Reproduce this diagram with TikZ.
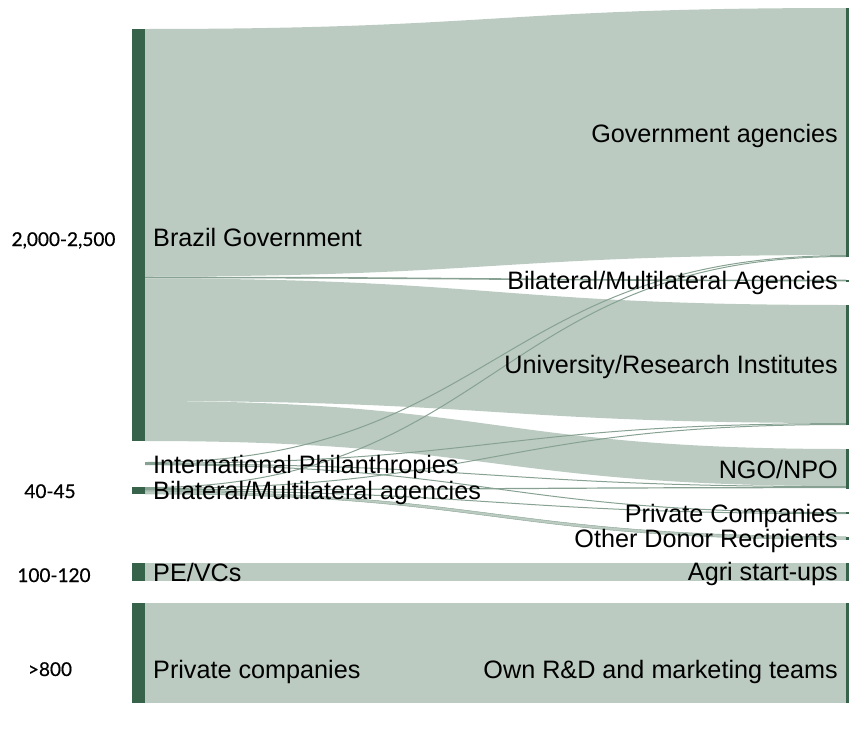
\documentclass[tikz,border=0pt]{standalone}
\usepackage{fontspec}
\setmainfont{Liberation Sans}
\newfontfamily\numfont[FakeBold=0.6]{Lato}
\usepackage{tikz}
\definecolor{bargreen}{RGB}{54,99,74}
\definecolor{flowgreen}{RGB}{187,203,193}
\definecolor{linkgreen}{RGB}{135,162,146}
\tikzset{
  band/.style={fill=flowgreen},
  flowline/.style={draw=linkgreen, line width=#1},
  flowline/.default=1pt,
  nodebar/.style={fill=bargreen},
  lab/.style={inner sep=0pt, font=\fontsize{25.2}{29}\selectfont},
  amount/.style={inner sep=0pt, font=\numfont\fontsize{19}{22}\selectfont},
}

\begin{document}
\begin{tikzpicture}[x=1pt,y=-1pt]
\useasboundingbox (0,0) rectangle (849,731);
\clip (0,0) rectangle (849,731);

%%Flow ends, sources side
\coordinate (bg-ga-t) at (145,29);
\coordinate (bg-ga-b) at (145,276.5);
\coordinate (bg-ba) at (145,277.5);
\coordinate (bg-ur-t) at (145,278.5);
\coordinate (bg-ur-b) at (145,401);
\coordinate (bg-ngo-t) at (145,401);
\coordinate (bg-ngo-b) at (145,441);
\coordinate (ip-ga) at (145,462.5);
\coordinate (ip-ur) at (145,463.3);
\coordinate (ip-ngo) at (145,464);
\coordinate (ip-pc) at (145,464.7);
\coordinate (bla-ga) at (145,487.6);
\coordinate (bla-ur) at (145,488.6);
\coordinate (bla-ngo) at (145,489.7);
\coordinate (bla-pc) at (145,490.8);
\coordinate (bla-odr-t) at (145,491.5);
\coordinate (bla-odr-b) at (145,494);

%%Flow ends, recipients side
\coordinate (ga-bg-t) at (846,8);
\coordinate (ga-bg-b) at (846,255);
\coordinate (ga-ip) at (846,255.6);
\coordinate (ga-bla) at (846,256.5);
\coordinate (ba-bg) at (846,280.5);
\coordinate (ur-bg-t) at (846,305);
\coordinate (ur-bg-b) at (846,423);
\coordinate (ur-ip) at (846,423.6);
\coordinate (ur-bla) at (846,424.5);
\coordinate (ngo-bg-t) at (846,449);
\coordinate (ngo-bg-b) at (846,486);
\coordinate (ngo-ip) at (846,486.6);
\coordinate (ngo-bla) at (846,487.6);
\coordinate (pc-ip) at (846,512.6);
\coordinate (pc-bla) at (846,513.6);
\coordinate (odr-bla-t) at (846,536.5);
\coordinate (odr-bla-b) at (846,539.5);

%%Wide bands
\fill[band] (bg-ga-t) .. controls +(350,0) and +(-350,0) .. (ga-bg-t) -- (ga-bg-b) .. controls +(-350,0) and +(350,0) .. (bg-ga-b) -- cycle;
\fill[band] (bg-ur-t) .. controls +(350,0) and +(-350,0) .. (ur-bg-t) -- (ur-bg-b) .. controls +(-350,0) and +(350,0) .. (bg-ur-b) -- cycle;
\fill[band] (bg-ngo-t) .. controls +(350,0) and +(-350,0) .. (ngo-bg-t) -- (ngo-bg-b) .. controls +(-350,0) and +(350,0) .. (bg-ngo-b) -- cycle;
\filldraw[band, draw=linkgreen, line width=0.4pt] (bla-odr-t) .. controls +(350,0) and +(-350,0) .. (odr-bla-t) -- (odr-bla-b) .. controls +(-350,0) and +(350,0) .. (bla-odr-b) -- cycle;
\fill[band] (145,563) rectangle (846,581);
\fill[band] (145,603) rectangle (846,703);

%%Thin flows
\draw[flowline=1.6pt] (bg-ba) .. controls +(350,0) and +(-350,0) .. (ba-bg);
\draw[flowline] (ip-ga) .. controls +(350,0) and +(-350,0) .. (ga-ip);
\draw[flowline] (ip-ur) .. controls +(350,0) and +(-350,0) .. (ur-ip);
\draw[flowline] (ip-ngo) .. controls +(350,0) and +(-350,0) .. (ngo-ip);
\draw[flowline] (ip-pc) .. controls +(350,0) and +(-350,0) .. (pc-ip);
\draw[flowline] (bla-ga) .. controls +(350,0) and +(-350,0) .. (ga-bla);
\draw[flowline] (bla-ur) .. controls +(350,0) and +(-350,0) .. (ur-bla);
\draw[flowline=1.2pt] (bla-ngo) .. controls +(350,0) and +(-350,0) .. (ngo-bla);
\draw[flowline] (bla-pc) .. controls +(350,0) and +(-350,0) .. (pc-bla);

%%Source bars
\fill[nodebar] (132,29) rectangle (145,441);
\fill[nodebar] (132,487) rectangle (145,494);
\fill[nodebar] (132,563) rectangle (145,581);
\fill[nodebar] (132,603) rectangle (145,703);

%%Recipient bars
\fill[nodebar] (846,8) rectangle (852,257);
\fill[nodebar] (846,279.5) rectangle (852,281.5);
\fill[nodebar] (846,305) rectangle (852,425);
\fill[nodebar] (846,449) rectangle (852,489);
\fill[nodebar] (846,512) rectangle (852,514.2);
\fill[nodebar] (846,536.5) rectangle (852,539.5);
\fill[nodebar] (846,563) rectangle (852,581);
\fill[nodebar] (846,603) rectangle (852,703);

%%Source labels
\node[lab, anchor=base west] (brazil) at (153,246) {Brazil Government};
\node[lab, anchor=base west] (philanthropies) at (153,473) {International Philanthropies};
\node[lab, anchor=base west] (bilateral) at (153,499) {Bilateral/Multilateral agencies};
\node[lab, anchor=base west] (pevc) at (153,581) {PE/VCs};
\node[lab, anchor=base west] (privco) at (153,678) {Private companies};

%%Recipient labels
\node[lab, anchor=base east] (govagencies) at (838,142) {Government agencies};
\node[lab, anchor=base east] (bilagencies) at (838,289) {Bilateral/Multilateral Agencies};
\node[lab, anchor=base east] (university) at (838,373) {University/Research Institutes};
\node[lab, anchor=base east] (ngo) at (838,478) {NGO/NPO};
\node[lab, anchor=base east] (privcomp) at (838,522) {Private Companies};
\node[lab, anchor=base east] (otherdonor) at (838,547) {Other Donor Recipients};
\node[lab, anchor=base east] (agri) at (838,580) {Agri start-ups};
\node[lab, anchor=base east] (ownrd) at (838,678) {Own R\&D and marketing teams};

%%Amounts
\node[amount, anchor=base] (amt-brazil) at (63.5,246) {2,000-2,500};
\node[amount, anchor=base] (amt-bilateral) at (50,498) {40-45};
\node[amount, anchor=base] (amt-pevc) at (54,582) {100-120};
\node[amount, anchor=base] (amt-privco) at (50,676) {>800};

\end{tikzpicture}
\end{document}
